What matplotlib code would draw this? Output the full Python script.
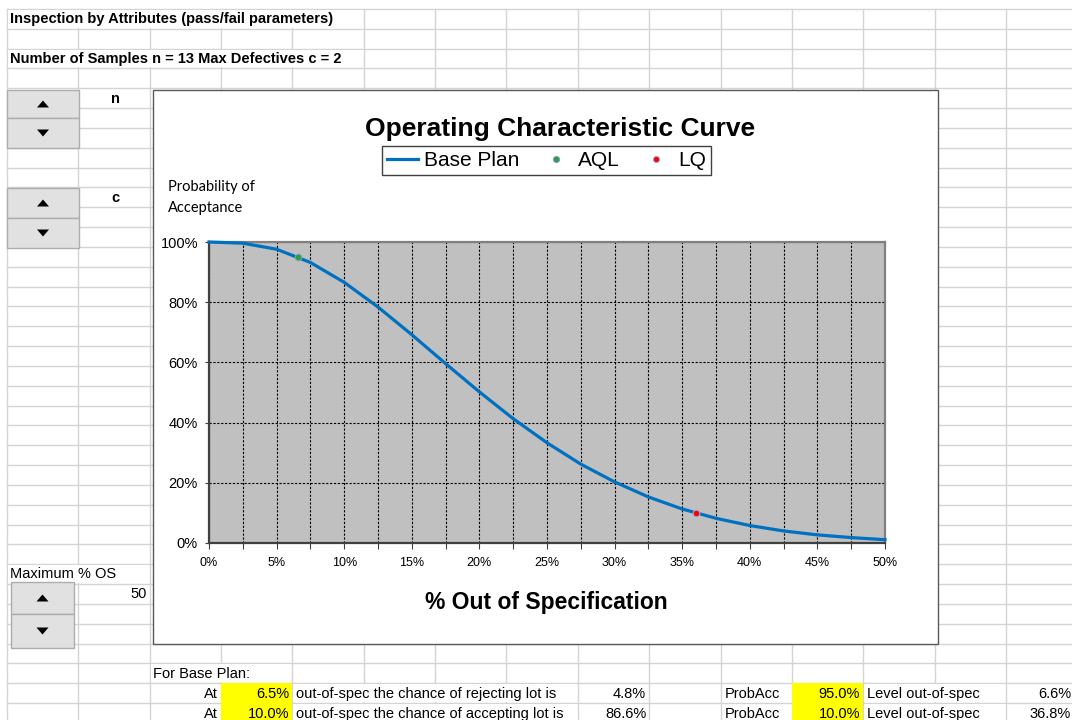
import matplotlib
matplotlib.use("Agg")
import matplotlib.pyplot as plt
from matplotlib.patches import Rectangle, Polygon
from matplotlib.ticker import PercentFormatter, MultipleLocator
from matplotlib.lines import Line2D

plt.rcParams['font.family'] = ['Liberation Sans', 'DejaVu Sans']

# OC curve for n = 13, c = 2
out_of_spec = [0.0, 0.025, 0.05, 0.075, 0.10, 0.125, 0.15, 0.175, 0.20, 0.225, 0.25,
               0.275, 0.30, 0.325, 0.35, 0.375, 0.40, 0.425, 0.45, 0.475, 0.50]
prob_acc = [1.000, 0.996, 0.976, 0.932, 0.866, 0.784, 0.692, 0.596, 0.502, 0.413, 0.333,
            0.262, 0.203, 0.153, 0.113, 0.082, 0.058, 0.040, 0.027, 0.018, 0.011]
aql_x, aql_y = [0.066], [0.95]
lq_x, lq_y = [0.36], [0.10]

x_ticks = [0, 0.05, 0.10, 0.15, 0.20, 0.25, 0.30, 0.35, 0.40, 0.45, 0.50]
y_ticks = [0, 0.2, 0.4, 0.6, 0.8, 1.0]

# summary table below the chart
at_levels = ["6.5%", "10.0%"]
phrases = ["out-of-spec the chance of rejecting lot is",
           "out-of-spec the chance of accepting lot is"]
chances = ["4.8%", "86.6%"]
probacc_levels = ["95.0%", "10.0%"]
level_out = ["6.6%", "36.8%"]

# spreadsheet grid (pixels)
COL0, CW = 7, 71.35
ROW0, RH = 9, 19.83
GRID = '#d4d4d4'


def cx(k):
    return COL0 + CW * k


def ry(k):
    return ROW0 + RH * k


def rc(k):
    return ry(k) + RH / 2


fig = plt.figure(figsize=(10.72, 7.2), dpi=100)
bg = fig.add_axes([0, 0, 1, 1])
bg.set_xlim(0, 1072)
bg.set_ylim(720, 0)
bg.axis('off')

for k in range(16):
    bg.plot([cx(k), cx(k)], [ROW0, 720], color=GRID, lw=1.0, zorder=1)
for k in range(37):
    bg.plot([COL0, 1072], [ry(k), ry(k)], color=GRID, lw=1.0, zorder=1)


def blank(c0, c1, r):
    bg.add_patch(Rectangle((cx(c0) + 1, ry(r) + 1), cx(c1) - cx(c0) - 2, RH - 2,
                           facecolor='white', edgecolor='none', zorder=2))


# cells hidden by overflowing text
blank(0, 5, 0)
blank(0, 5, 2)
blank(0, 2, 28)
blank(2, 4, 33)
for r in (34, 35):
    blank(4, 8, r)
    blank(12, 14, r)

# yellow input cells
for c in (3, 11):
    bg.add_patch(Rectangle((cx(c), ry(34)), CW, 720 - ry(34),
                           facecolor='#ffff00', edgecolor='none', zorder=2))

# header texts
bg.text(10, rc(0), "Inspection by Attributes (pass/fail parameters)", fontsize=10.5,
        fontweight='bold', va='center', zorder=3)
bg.text(10, rc(2), "Number of Samples n = 13 Max Defectives c = 2", fontsize=10.5,
        fontweight='bold', va='center', zorder=3)
bg.text(115, rc(4) + 1, "n", fontsize=10.5, fontweight='bold', ha='center', va='center', zorder=3)
bg.text(115, rc(9) + 1, "c", fontsize=10.5, fontweight='bold', ha='center', va='center', zorder=3)
bg.text(10, rc(28), "Maximum % OS", fontsize=10.5, va='center', zorder=3)
bg.text(147, rc(29), "50", fontsize=10.5, ha='right', va='center', zorder=3)


def spinner(x0, x1, y0, ym, y1):
    w = x1 - x0
    xm = (x0 + x1) / 2
    for top, bot, up in ((y0, ym, True), (ym, y1, False)):
        bg.add_patch(Rectangle((x0, top), w, bot - top, facecolor='#e1e1e1',
                               edgecolor='#adadad', lw=1, zorder=3))
        yc = (top + bot) / 2
        if up:
            pts = [(xm - 6, yc + 3.5), (xm + 6, yc + 3.5), (xm, yc - 3.5)]
        else:
            pts = [(xm - 6, yc - 3.5), (xm + 6, yc - 3.5), (xm, yc + 3.5)]
        bg.add_patch(Polygon(pts, closed=True, facecolor='black', edgecolor='none', zorder=4))


spinner(7, 79, 90, 118, 148)
spinner(7, 79, 188, 218, 248)
spinner(11, 74, 582, 614, 648)

# table below the chart
bg.text(153, rc(33) + 1, "For Base Plan:", fontsize=10.5, va='center', zorder=3)
for i, r in enumerate((34, 35)):
    y = rc(r) + 1
    bg.text(cx(3) - 3, y, "At", fontsize=10.5, ha='right', va='center', zorder=3)
    bg.text(cx(4) - 3, y, at_levels[i], fontsize=10.5, ha='right', va='center', zorder=3)
    bg.text(cx(4) + 4, y, phrases[i], fontsize=10.5, va='center', zorder=3)
    bg.text(cx(9) - 3, y, chances[i], fontsize=10.5, ha='right', va='center', zorder=3)
    bg.text(cx(10) + 4, y, "ProbAcc", fontsize=10.5, va='center', zorder=3)
    bg.text(cx(12) - 3, y, probacc_levels[i], fontsize=10.5, ha='right', va='center', zorder=3)
    bg.text(cx(12) + 4, y, "Level out-of-spec", fontsize=10.5, va='center', zorder=3)
    bg.text(1071, y, level_out[i], fontsize=10.5, ha='right', va='center', zorder=3)

# chart panel
bg.add_patch(Rectangle((153, 90), 938 - 153, 644 - 90, facecolor='white',
                       edgecolor='#595959', lw=1.0, zorder=5))
bg.text(560, 129, "Operating Characteristic Curve", fontsize=19, fontweight='bold',
        ha='center', va='center', zorder=6)
bg.text(168, 187, "Probability of", fontsize=10.5, family=['Lato', 'DejaVu Sans'],
        va='center', zorder=6)
bg.text(168, 208, "Acceptance", fontsize=10.5, family=['Lato', 'DejaVu Sans'],
        va='center', zorder=6)
bg.text(546, 602, "% Out of Specification", fontsize=16.5, fontweight='bold',
        ha='center', va='center', zorder=6)

# plot area
L, R, T, B = 209, 885, 242, 543
ax = fig.add_axes([L / 1072, (720 - B) / 720, (R - L) / 1072, (B - T) / 720], zorder=10)
ax.set_facecolor('#c0c0c0')
ax.set_xlim(0, 0.5)
ax.set_ylim(0, 1)
ax.set_xticks(x_ticks)
ax.xaxis.set_minor_locator(MultipleLocator(0.025))
ax.set_yticks(y_ticks)
ax.xaxis.set_major_formatter(PercentFormatter(xmax=1, decimals=0))
ax.yaxis.set_major_formatter(PercentFormatter(xmax=1, decimals=0))
ax.tick_params(axis='x', which='both', length=4, width=0.8, color='#404040',
               labelsize=9, pad=6)
ax.tick_params(axis='y', length=3, width=0.8, color='#404040', labelsize=10.5, pad=5)
ax.grid(True, axis='x', which='both', color='black', lw=0.8, ls=(0, (2, 1.5)))
ax.grid(True, axis='y', which='major', color='black', lw=0.8, ls=(0, (2, 1.5)))
ax.set_axisbelow(True)
for side in ('left', 'bottom'):
    ax.spines[side].set_color('#404040')
    ax.spines[side].set_linewidth(1.6)
for side in ('top', 'right'):
    ax.spines[side].set_color('#808080')
    ax.spines[side].set_linewidth(1.6)

ax.plot(out_of_spec, prob_acc, color='#0070c0', lw=2.3, zorder=3, clip_on=False)
ax.plot(aql_x, aql_y, 'o', color='#22a04b', ms=4.8, mec='#9a9ab8', mew=0.7, zorder=4)
ax.plot(lq_x, lq_y, 'o', color='#ff0000', ms=4.8, mec='#9ab8d8', mew=0.7, zorder=4)

handles = [Line2D([], [], color='#0070c0', lw=2.3),
           Line2D([], [], ls='none', marker='o', color='#22a04b', ms=4.5,
                  mec='#9a9ab8', mew=0.7),
           Line2D([], [], ls='none', marker='o', color='#ff0000', ms=4.5,
                  mec='#9ab8d8', mew=0.7)]
leg = ax.legend(handles, ["Base Plan", "AQL", "LQ"], loc='center',
                bbox_to_anchor=(546.5, 160.5), bbox_transform=bg.transData,
                ncol=3, fontsize=15, frameon=True, fancybox=False, framealpha=1,
                edgecolor='#404040', handlelength=1.5, handletextpad=0.3,
                columnspacing=1.0, borderpad=0.25, borderaxespad=0)
leg.get_frame().set_linewidth(1.0)

fig.savefig("out.png", dpi=100)
